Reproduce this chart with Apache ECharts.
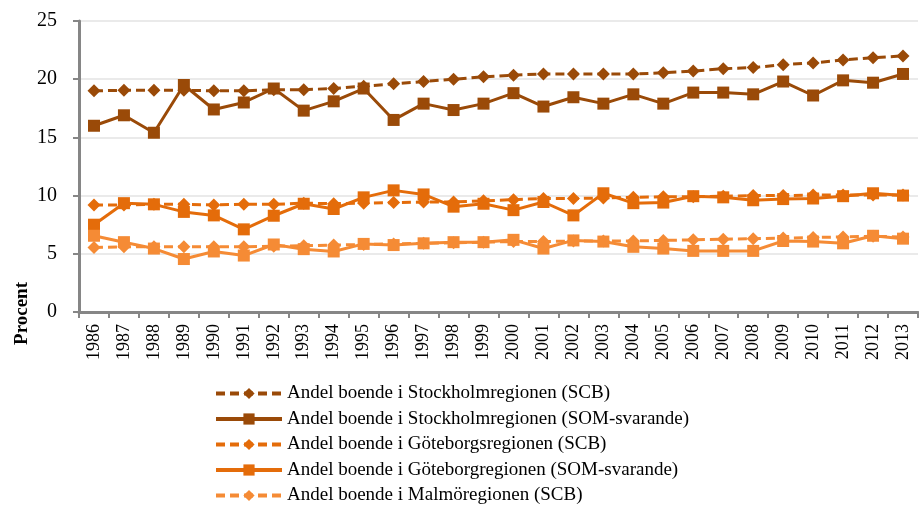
<!DOCTYPE html>
<html>
<head>
<meta charset="utf-8">
<script src="https://cdn.jsdelivr.net/npm/echarts@6/dist/echarts.min.js"></script>
<style>
  html, body { margin: 0; padding: 0; background: #fff; }
  #chart { width: 919px; height: 508px; }
</style>
</head>
<body>
<div id="chart"></div>
<script>
const years = ['1986','1987','1988','1989','1990','1991','1992','1993','1994','1995','1996','1997','1998','1999','2000','2001','2002','2003','2004','2005','2006','2007','2008','2009','2010','2011','2012','2013'];

const sthlmScb = [19.0,19.05,19.05,19.05,19.0,19.0,19.1,19.1,19.2,19.4,19.6,19.8,20.0,20.2,20.35,20.45,20.45,20.45,20.45,20.55,20.7,20.9,21.0,21.25,21.4,21.65,21.85,22.0];
const sthlmSom = [16.0,16.9,15.4,19.5,17.4,18.0,19.2,17.3,18.1,19.2,16.5,17.9,17.35,17.9,18.8,17.65,18.45,17.9,18.7,17.9,18.85,18.85,18.7,19.8,18.6,19.9,19.7,20.45];
const gbgScb = [9.2,9.2,9.25,9.25,9.2,9.25,9.25,9.35,9.3,9.35,9.4,9.45,9.45,9.55,9.65,9.75,9.75,9.8,9.85,9.9,9.9,9.95,10.0,10.0,10.05,10.05,10.05,10.05];
const gbgSom = [7.5,9.35,9.25,8.6,8.3,7.1,8.27,9.3,8.85,9.85,10.45,10.1,9.05,9.3,8.75,9.45,8.3,10.2,9.35,9.4,9.95,9.85,9.6,9.7,9.75,9.95,10.2,10.0];
const malmoScb = [5.55,5.6,5.6,5.6,5.6,5.6,5.65,5.7,5.75,5.8,5.85,5.9,5.95,6.0,6.05,6.05,6.1,6.1,6.1,6.15,6.2,6.25,6.3,6.35,6.4,6.45,6.5,6.45];
const malmoSom = [6.55,6.0,5.45,4.55,5.2,4.85,5.8,5.4,5.2,5.85,5.75,5.9,6.0,6.0,6.2,5.45,6.15,6.05,5.6,5.45,5.25,5.25,5.25,6.1,6.05,5.9,6.55,6.3];

const yTicks = [0, 5, 10, 15, 20, 25];

const names = [
  'Andel boende i Stockholmregionen (SCB)',
  'Andel boende i Stockholmregionen (SOM-svarande)',
  'Andel boende i Göteborgsregionen (SCB)',
  'Andel boende i Göteborgregionen (SOM-svarande)',
  'Andel boende i Malmöregionen (SCB)',
  'Andel boende i Malmöregionen (SOM-svarande)'
];

const dark = '#9a4a08';
const mid = '#e46c0a';
const light = '#f58b35';
const serif = 'Liberation Serif, DejaVu Serif, serif';

function mk(name, data, color, dashed) {
  return {
    name: name,
    type: 'line',
    data: data,
    symbol: dashed ? 'diamond' : 'rect',
    symbolSize: dashed ? 13 : 12,
    showSymbol: true,
    lineStyle: { color: color, width: 3, type: dashed ? [9, 5] : 'solid' },
    itemStyle: { color: color, borderWidth: 0 },
    emphasis: { disabled: true },
    animation: false
  };
}

const chart = echarts.init(document.getElementById('chart'));
chart.setOption({
  backgroundColor: '#fff',
  animation: false,
  textStyle: { fontFamily: serif },
  grid: { left: 79, right: 1, top: 21, bottom: 196 },
  legend: {
    data: names.slice(0, 5),
    orient: 'vertical',
    left: 214,
    top: 384,
    padding: 0,
    itemWidth: 66,
    itemHeight: 14,
    itemGap: 6.5,
    lineStyle: { width: 4 },
    textStyle: { fontSize: 19, color: '#000', fontFamily: serif }
  },
  xAxis: {
    type: 'category',
    data: years,
    boundaryGap: true,
    axisLine: { lineStyle: { color: '#868686', width: 3 } },
    axisTick: { show: true, length: 6, lineStyle: { color: '#868686', width: 2 } },
    axisLabel: { rotate: 90, fontSize: 18, color: '#000', margin: 12, fontFamily: serif }
  },
  yAxis: {
    type: 'value',
    min: yTicks[0],
    max: yTicks[yTicks.length - 1],
    interval: 5,
    axisLine: { show: true, lineStyle: { color: '#868686', width: 3 } },
    axisTick: { show: true, length: 6, lineStyle: { color: '#868686', width: 2 } },
    axisLabel: { fontSize: 20, color: '#000', margin: 22, fontFamily: serif },
    splitLine: { lineStyle: { color: '#e3e3e3', width: 1.5 } }
  },
  graphic: [{
    type: 'text',
    left: 13,
    top: 282,
    rotation: Math.PI / 2,
    style: {
      text: 'Procent',
      fontSize: 19,
      fontWeight: 'bold',
      fill: '#000',
      fontFamily: serif
    }
  }],
  series: [
    mk(names[0], sthlmScb, dark, true),
    mk(names[1], sthlmSom, dark, false),
    mk(names[2], gbgScb, mid, true),
    mk(names[3], gbgSom, mid, false),
    mk(names[4], malmoScb, light, true),
    mk(names[5], malmoSom, light, false)
  ]
});
</script>
</body>
</html>
